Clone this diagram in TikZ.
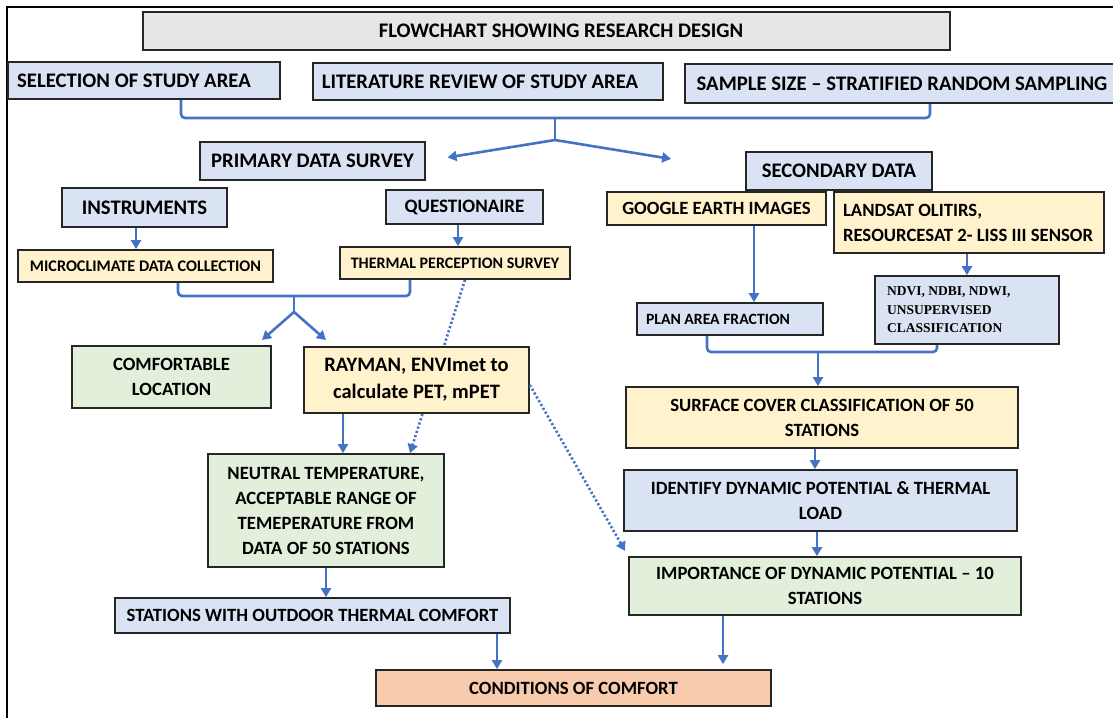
\documentclass[tikz,border=0pt]{standalone}
\usepackage{fontspec}
\setmainfont{Carlito}
\newfontfamily\timesfont{Liberation Serif}
\usetikzlibrary{arrows.meta,backgrounds}

\definecolor{boxgray}{HTML}{E7E6E6}
\definecolor{boxblue}{HTML}{DAE3F3}
\definecolor{boxyellow}{HTML}{FFF2CC}
\definecolor{boxgreen}{HTML}{E2EFDA}
\definecolor{boxorange}{HTML}{F8CBAD}
\definecolor{linkblue}{HTML}{4472C4}

\tikzset{
  box/.style={draw=black!85, line width=1.7pt, align=center, inner sep=2pt,
    font=\bfseries\fontsize{18.7}{25}\selectfont},
  bigtext/.style={font=\bfseries\fontsize{20.7}{25}\selectfont},
  graybox/.style={box, fill=boxgray},
  bluebox/.style={box, fill=boxblue},
  yellowbox/.style={box, fill=boxyellow},
  greenbox/.style={box, fill=boxgreen},
  orangebox/.style={box, fill=boxorange},
  link/.style={draw=linkblue, line width=2.6pt, -{Triangle[length=9pt,width=10pt]}},
  bracket/.style={draw=linkblue, line width=2.6pt, rounded corners=4pt},
  dotlink/.style={link, line width=2.6pt, dash pattern=on 2.2pt off 2.2pt},
}

\begin{document}
\begin{tikzpicture}[x=1pt,y=-1pt]
\useasboundingbox (0,0) rectangle (1113,718);

% ---------- frame ----------
\draw[line width=1.2pt] (7,718) -- (7,7) -- (1113,7);

% ---------- top row ----------
\node[graybox, bigtext, minimum width=807, minimum height=38] (title) at (546.5,31) {\hspace*{29pt}FLOWCHART SHOWING RESEARCH DESIGN};
\node[bluebox, bigtext, minimum width=272, minimum height=37] (selection) at (144,80.5) {SELECTION OF STUDY AREA\hspace*{20pt}};
\node[bluebox, bigtext, minimum width=350, minimum height=37] (literature) at (488,81.5) {LITERATURE REVIEW OF STUDY AREA\hspace*{16pt}};
\node[bluebox, bigtext, minimum width=434, minimum height=39] (sample) at (902,83.5) {SAMPLE SIZE -- STRATIFIED RANDOM SAMPLING};

% ---------- primary data ----------
\node[bluebox, bigtext, minimum width=225, minimum height=38] (primary) at (312.5,161) {PRIMARY DATA SURVEY};
\node[bluebox, bigtext, minimum width=165, minimum height=39] (instruments) at (144.5,207.5) {INSTRUMENTS};
\node[bluebox, minimum width=157, minimum height=34, font=\bfseries\fontsize{19}{22}\selectfont] (questionaire) at (464.5,207) {QUESTIONAIRE};
\node[yellowbox, minimum width=255, minimum height=32, font=\bfseries\fontsize{16.2}{19}\selectfont] (micro) at (145.5,266) {MICROCLIMATE DATA COLLECTION};
\node[yellowbox, minimum width=230, minimum height=32, font=\bfseries\fontsize{16}{19}\selectfont] (thermal) at (455,263) {THERMAL PERCEPTION SURVEY};
\node[greenbox, minimum width=199, minimum height=62] (comfort) at (171.5,377) {COMFORTABLE\\LOCATION};
\node[yellowbox, minimum width=225, minimum height=66, font=\bfseries\fontsize{20.5}{27}\selectfont] (rayman) at (416.5,380) {RAYMAN, ENVImet to\\calculate PET, mPET};
\node[greenbox, minimum width=236, minimum height=113] (neutral) at (326,510.5) {NEUTRAL TEMPERATURE,\\ACCEPTABLE RANGE OF\\TEMEPERATURE FROM\\DATA OF 50 STATIONS};
\node[bluebox, minimum width=395, minimum height=35] (stations) at (312.5,615.5) {STATIONS WITH OUTDOOR THERMAL COMFORT};
\node[orangebox, minimum width=395, minimum height=36] (conditions) at (573.5,688) {CONDITIONS OF COMFORT};

% ---------- secondary data ----------
\node[bluebox, bigtext, minimum width=186, minimum height=38] (secondary) at (839,171) {SECONDARY DATA};
\node[yellowbox, minimum width=219, minimum height=33] (google) at (716.5,208.5) {GOOGLE EARTH IMAGES};
\node[yellowbox, minimum width=270, minimum height=61, align=flush left, text width=252] (landsat) at (969,222.5) {LANDSAT OLITIRS,\\RESOURCESAT 2- LISS III SENSOR};
\node[bluebox, minimum width=186, minimum height=32, font=\bfseries\fontsize{15.7}{19}\selectfont, align=flush left, text width=168] (plan) at (730,319) {PLAN AREA FRACTION};
\node[bluebox, minimum width=184, minimum height=68, align=flush left, text width=160, font=\timesfont\bfseries\fontsize{13.5}{18.5}\selectfont] (ndvi) at (967,310) {NDVI, NDBI, NDWI,\\UNSUPERVISED\\CLASSIFICATION};
\node[yellowbox, minimum width=392, minimum height=61] (surface) at (822,417.5) {SURFACE COVER CLASSIFICATION OF 50\\STATIONS};
\node[bluebox, minimum width=393, minimum height=61] (identify) at (820.5,500.5) {IDENTIFY DYNAMIC POTENTIAL \& THERMAL\\LOAD};
\node[greenbox, minimum width=392, minimum height=58] (importance) at (825,586) {IMPORTANCE OF DYNAMIC POTENTIAL -- 10\\STATIONS};

% ---------- joins ----------
\coordinate (topjoin) at (555,118);
\coordinate (topsplit) at (555,140);
\coordinate (midjoin) at (294,296);
\coordinate (midsplit) at (294,312);
\coordinate (comforttip) at (262,340);
\coordinate (raymantip) at (326,340);
\coordinate (botjoin) at (818,352);

% ---------- top connectors ----------
\draw[bracket] ([xshift=37pt]selection.south) |- (topjoin);
\draw[bracket] ([xshift=28pt]sample.south) |- (topjoin);
\draw[bracket] (topjoin) -- (topsplit);
\draw[link, shorten >=22pt] (topsplit) -- (primary.east);
\draw[link, shorten >=75pt] (topsplit) -- (secondary.west);

% ---------- primary connectors ----------
\coordinate (instout) at ([xshift=-8.5pt]instruments.south);
\draw[link] (instout) -- (instout |- micro.north);
\coordinate (questout) at ([xshift=-6.5pt]questionaire.south);
\draw[link] (questout) -- (questout |- thermal.north);
\draw[bracket] ([xshift=32.5pt]micro.south) |- (midjoin);
\draw[bracket] ([xshift=-45pt]thermal.south) |- (midjoin);
\draw[bracket] (midjoin) -- (midsplit);
\draw[link] (midsplit) -- (comforttip);
\draw[link] (midsplit) -- (raymantip);
\coordinate (raymanout) at ([xshift=-73.5pt]rayman.south);
\draw[link] (raymanout) -- (raymanout |- neutral.north);
\begin{scope}[on background layer]
\draw[dotlink] ([xshift=10pt]thermal.south) -- ([xshift=84pt]neutral.north);
\end{scope}
\draw[dotlink, shorten >=6pt] ([yshift=-5pt]rayman.east) -- (importance.north west);
\draw[link] (neutral.south) -- (neutral.south |- stations.north);
\coordinate (stationsout) at ([xshift=184.5pt]stations.south);
\draw[link] (stationsout) -- (stationsout |- conditions.north);

% ---------- secondary connectors ----------
\coordinate (googleout) at ([xshift=37.5pt]google.south);
\draw[link] (googleout) -- (googleout |- plan.north);
\coordinate (landsatout) at ([xshift=-2pt]landsat.south);
\draw[link] (landsatout) -- (landsatout |- ndvi.north);
\draw[bracket] ([xshift=-23pt]plan.south) |- (botjoin);
\draw[bracket] ([xshift=-30pt]ndvi.south) |- (botjoin);
\draw[link] (botjoin) -- (botjoin |- surface.north);
\coordinate (surfaceout) at ([xshift=-7pt]surface.south);
\draw[link] (surfaceout) -- (surfaceout |- identify.north);
\coordinate (identifyout) at ([xshift=-3.5pt]identify.south);
\draw[link] (identifyout) -- (identifyout |- importance.north);
\coordinate (importout) at ([xshift=-102pt]importance.south);
\draw[link, shorten >=5pt] (importout) -- (importout |- conditions.north);

\end{tikzpicture}
\end{document}
